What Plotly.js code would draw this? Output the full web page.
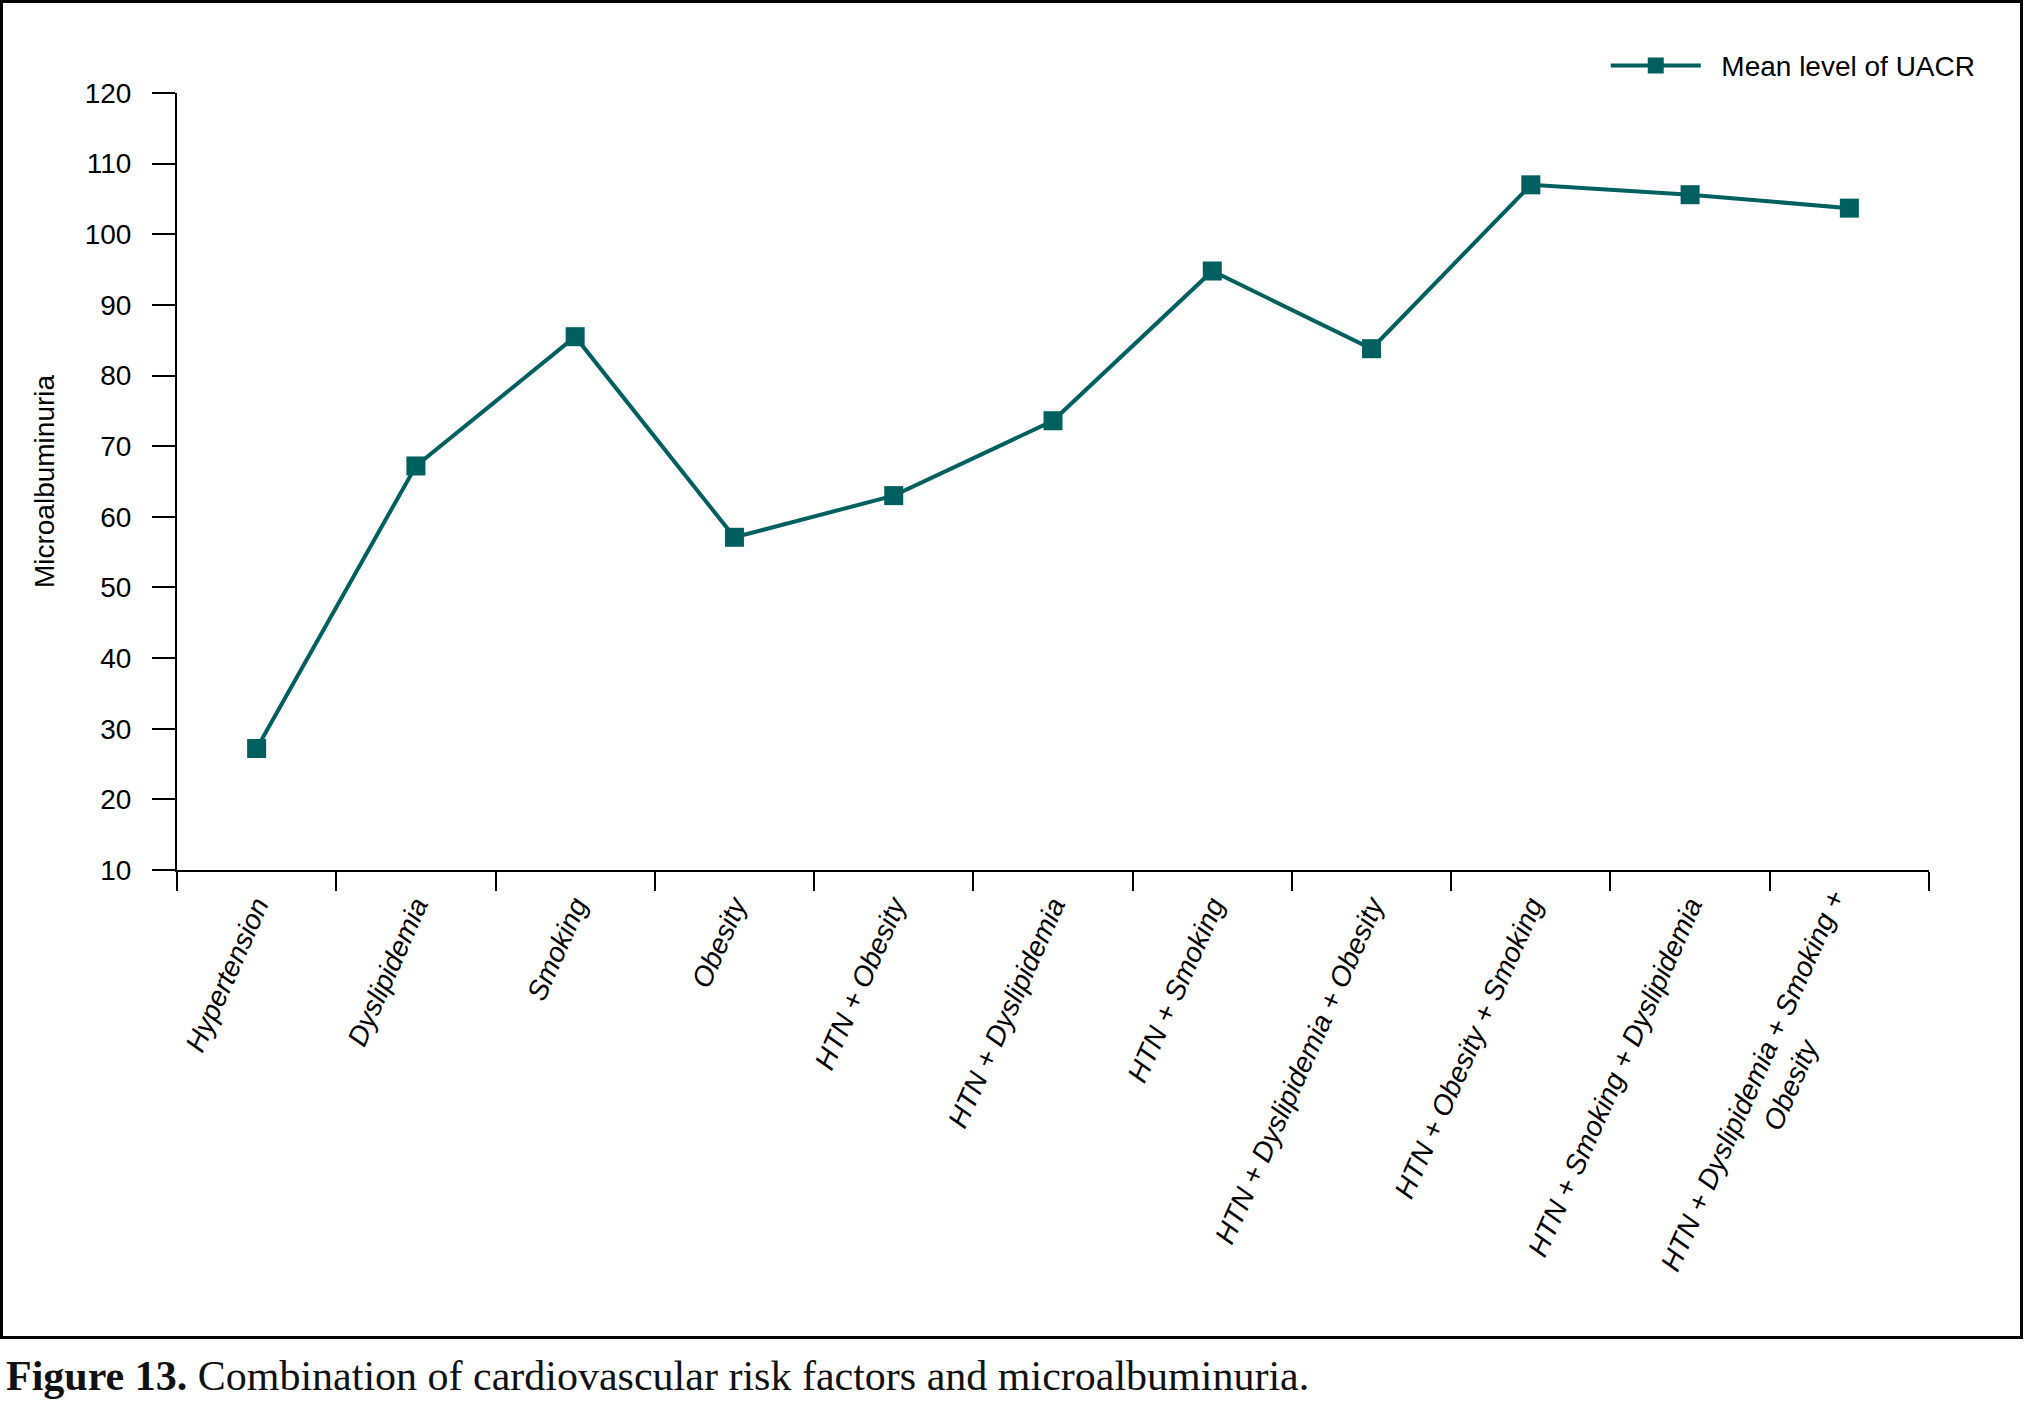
<!DOCTYPE html>
<html>
<head>
<meta charset="utf-8">
<script src="https://cdn.plot.ly/plotly-3.0.1.min.js"></script>
<style>
  html, body { margin: 0; padding: 0; background: #fff; width: 2025px; height: 1407px; overflow: hidden; }
  #frame { position: absolute; left: 0; top: 0; width: 2023px; height: 1339px; box-sizing: border-box; border: 3px solid #000; }
  #chart { position: absolute; left: 0; top: 0; width: 2023px; height: 1339px; }
  #caption { position: absolute; left: 6px; top: 1352px; font-family: "Liberation Serif", "DejaVu Serif", serif; font-size: 42px; color: #111; white-space: nowrap; }
</style>
</head>
<body>
<div id="frame"></div>
<div id="chart"></div>
<div id="caption"><b>Figure 13.</b> Combination of cardiovascular risk factors and microalbuminuria.</div>
<script>
const NB = "\u00a0";
const categories = [
  "Hypertension",
  "Dyslipidemia",
  "Smoking",
  "Obesity",
  "HTN + Obesity",
  "HTN + Dyslipidemia",
  "HTN + Smoking",
  "HTN + Dyslipidemia + Obesity",
  "HTN + Obesity + Smoking",
  "HTN + Smoking + Dyslipidemia",
  "HTN + Dyslipidemia + Smoking +<br>Obesity" + NB.repeat(19)
];
const meanUACR = [27.2, 67.2, 85.5, 57.1, 63.0, 73.6, 94.8, 83.8, 107.0, 105.6, 103.7];
const seriesName = NB + NB + "Mean level of UACR";
const yTickValues = [10, 20, 30, 40, 50, 60, 70, 80, 90, 100, 110, 120];

const teal = "#005f5f";
const baseFont = "Liberation Sans, Arial, Helvetica, sans-serif";

const trace = {
  type: "scatter",
  mode: "lines+markers",
  x: categories,
  y: meanUACR,
  name: seriesName,
  line: { color: teal, width: 4 },
  marker: { symbol: "square", size: 19, color: teal },
  showlegend: true
};

const layout = {
  width: 2023,
  height: 1339,
  margin: { l: 177, r: 94, t: 93, b: 469 },
  paper_bgcolor: "rgba(0,0,0,0)",
  plot_bgcolor: "rgba(0,0,0,0)",
  font: { family: baseFont, size: 28, color: "#000" },
  showlegend: true,
  legend: {
    x: 0.8155, xanchor: "left",
    y: 1.035, yanchor: "middle",
    font: { family: baseFont, size: 28, color: "#000" },
    bgcolor: "rgba(0,0,0,0)",
    itemwidth: 90,
    itemsizing: "trace"
  },
  xaxis: {
    type: "category",
    range: [-0.5, categories.length - 0.5],
    tickson: "boundaries",
    ticks: "outside",
    ticklen: 19,
    tickwidth: 2,
    tickcolor: "#000",
    showline: true,
    linecolor: "#000",
    linewidth: 2,
    showgrid: false,
    zeroline: false,
    tickangle: -66,
    ticklabelstandoff: 6,
    tickfont: { family: baseFont, size: 28, color: "#000", style: "italic" },
    automargin: false
  },
  yaxis: {
    range: [10, 120],
    tickmode: "array",
    tickvals: yTickValues,
    ticktext: yTickValues.map(String),
    ticks: "outside",
    ticklen: 23,
    tickwidth: 2,
    tickcolor: "#000",
    showline: true,
    linecolor: "#000",
    linewidth: 2,
    showgrid: false,
    zeroline: false,
    ticklabelstandoff: 15,
    tickfont: { family: baseFont, size: 28, color: "#000" },
    title: { text: "Microalbuminuria", font: { family: baseFont, size: 28, color: "#000" }, standoff: 22 },
    automargin: false
  }
};

Plotly.newPlot("chart", [trace], layout, { displayModeBar: false, staticPlot: true });
</script>
</body>
</html>
